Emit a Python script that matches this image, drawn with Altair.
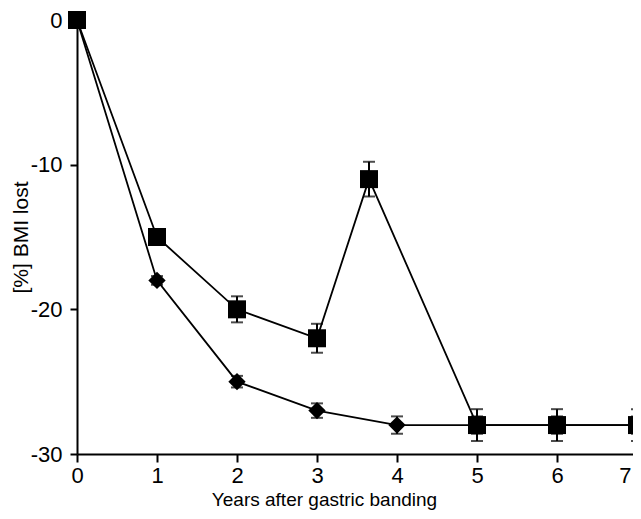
import altair as alt
import pandas as pd

# Squares series
years_sq = [0, 1, 2, 3, 3.65, 5, 6, 7]
bmi_sq = [0, -15, -20, -22, -11, -28, -28, -28]
err_sq = [0, 0.4, 0.9, 1.0, 1.2, 1.1, 1.1, 1.1]

# Diamonds series (values at 5-7 lie under the squares)
years_di = [0, 1, 2, 3, 4, 5, 6, 7]
bmi_di = [0, -18, -25, -27, -28, -28, -28, -28]
err_di = [0, 0.3, 0.4, 0.5, 0.6, 0.6, 0.6, 0.6]

x_ticks = [0, 1, 2, 3, 4, 5, 6, 7]
y_ticks = [0, -10, -20, -30]

sq = pd.DataFrame({"year": years_sq, "bmi": bmi_sq, "err": err_sq, "grp": "sq"})
di = pd.DataFrame({"year": years_di, "bmi": bmi_di, "err": err_di, "grp": "di"})
for d in (sq, di):
    d["lo"] = d["bmi"] - d["err"]
    d["hi"] = d["bmi"] + d["err"]

FONT = "Liberation Sans, Arial, sans-serif"

xscale = alt.Scale(domain=[0, 7], nice=False, zero=False)
yscale = alt.Scale(domain=[-30, 0], nice=False)

x_enc = alt.X(
    "year:Q",
    scale=xscale,
    axis=alt.Axis(
        values=x_ticks,
        format="d",
        labelAlign={"condition": {"test": "datum.value == 7", "value": "right"}, "value": "center"},
        labelOffset={"condition": {"test": "datum.value == 7", "value": -6}, "value": 0},
        title="Years after gastric banding",
        titleX=247,
        titleY=51,
        titleAlign="center",
        titleBaseline="alphabetic",
        titleFontSize=19,
        titleFontWeight="normal",
        labelFontSize=22,
        labelPadding=3,
        tickSize=8,
    ),
)
y_enc = alt.Y(
    "bmi:Q",
    scale=yscale,
    axis=alt.Axis(
        values=y_ticks,
        labelExpr="datum.value == 0 ? '0' : '-' + abs(datum.value)",
        title="[%] BMI lost",
        titleX=-50,
        titleY=217,
        titleAngle=270,
        titleAlign="center",
        titleBaseline="alphabetic",
        titleFontSize=21,
        titleFontWeight="normal",
        labelFontSize=22,
        labelPadding=8,
        tickSize=7,
    ),
)


def series(df, shape, size):
    base = alt.Chart(df)
    line = base.mark_line(color="black", strokeWidth=1.8).encode(x=x_enc, y=y_enc)
    rule = base.mark_rule(color="black", strokeWidth=2).encode(
        x="year:Q", y="lo:Q", y2="hi:Q"
    )
    cap_lo = base.mark_tick(color="black", orient="horizontal", size=12, thickness=2).encode(
        x="year:Q", y="lo:Q"
    )
    cap_hi = base.mark_tick(color="black", orient="horizontal", size=12, thickness=2).encode(
        x="year:Q", y="hi:Q"
    )
    pts = base.mark_point(
        shape=shape, size=size, filled=True, color="black", opacity=1
    ).encode(x="year:Q", y="bmi:Q")
    return [line, rule, cap_lo, cap_hi, pts]


chart = (
    alt.layer(*series(di, "diamond", 300), *series(sq, "square", 324))
    .properties(
        width=560,
        height=434,
        autosize=alt.AutoSizeParams(type="none"),
        padding={"left": 69, "top": 12, "right": -4, "bottom": 57},
    )
    .configure_view(stroke=None)
    .configure_axis(
        grid=False,
        domainColor="black",
        domainWidth=2,
        tickColor="black",
        tickWidth=2,
        labelColor="black",
        titleColor="black",
        labelFont=FONT,
        titleFont=FONT,
    )
)

chart.save("out.html", embed_options={"renderer": "svg", "actions": False})
